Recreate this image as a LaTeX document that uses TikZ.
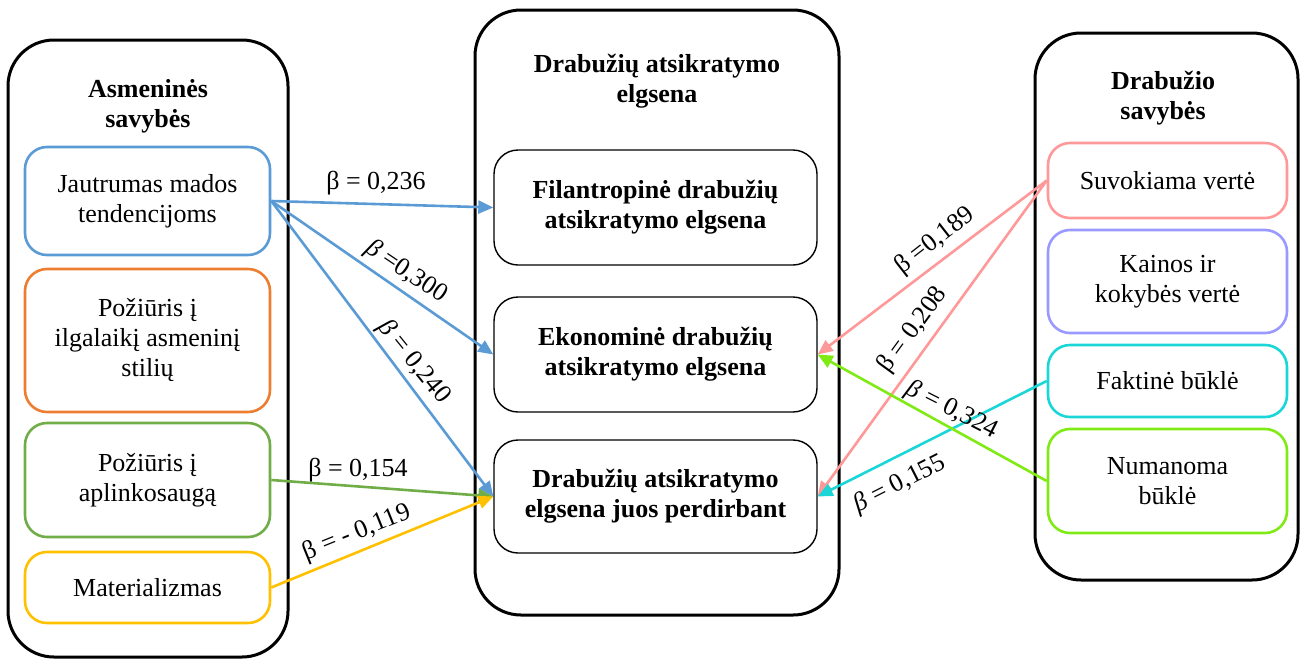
\documentclass[tikz,border=0pt]{standalone}
\usepackage{fontspec}
\setmainfont{Liberation Serif}
\usetikzlibrary{arrows.meta}

\definecolor{cblue}{HTML}{5B9BD5}
\definecolor{corange}{HTML}{ED7D31}
\definecolor{cgreen}{HTML}{70AD47}
\definecolor{cgold}{HTML}{FFC000}
\definecolor{cpink}{HTML}{FF9999}
\definecolor{clav}{HTML}{9999FF}
\definecolor{ccyan}{HTML}{1AD6D6}
\definecolor{clime}{HTML}{80EA14}

\tikzset{
  txt/.style={font=\fontsize{26}{30}\selectfont, align=center},
  group/.style={draw=black, line width=3pt, rounded corners=46pt, inner sep=0pt},
  outcome/.style={draw=black, line width=1.4pt, rounded corners=24pt, inner sep=0pt, txt, font=\fontsize{26}{30}\selectfont\bfseries},
  factor/.style={line width=2.6pt, rounded corners=22pt, inner sep=0pt, txt},
  title/.style={txt, font=\fontsize{26}{30}\selectfont\bfseries},
  link/.style={line width=2.6pt, -{Triangle[length=15pt,width=13pt]}},
  coef/.style={txt, inner sep=0pt},
}

\begin{document}
\begin{tikzpicture}[x=1pt,y=-1pt]
\useasboundingbox (0,0) rectangle (1305,659);

% group containers
\node[group, minimum width=280pt, minimum height=617pt] (personal) at (148,348.5) {};
\node[group, minimum width=364pt, minimum height=605pt] (behaviour) at (657,312.5) {};
\node[group, minimum width=263pt, minimum height=547pt] (garment) at (1166.5,306.5) {};

% group titles
\node[title] (tpersonal) at (148,106) {Asmeninės\\savybės};
\node[title] (tbehaviour) at (657,81) {Drabužių atsikratymo\\elgsena};
\node[title] (tgarment) at (1163,98) {Drabužio\\savybės};

% personal factors
\node[factor, draw=cblue, minimum width=245pt, minimum height=108pt] (fashion) at (147.5,201) {Jautrumas mados\\tendencijoms};
\node[factor, draw=corange, minimum width=245pt, minimum height=143pt] (style) at (147.5,340.5) {Požiūris į\\ilgalaikį asmeninį\\stilių};
\node[factor, draw=cgreen, minimum width=245pt, minimum height=114pt] (environ) at (147.5,480) {Požiūris į\\aplinkosaugą};
\node[factor, draw=cgold, minimum width=245pt, minimum height=71pt] (material) at (147.5,587.5) {Materializmas};

% disposal behaviours
\node[outcome, minimum width=323pt, minimum height=115pt] (philan) at (655.5,207.5) {Filantropinė drabužių\\atsikratymo elgsena};
\node[outcome, minimum width=323pt, minimum height=115pt] (econ) at (655.5,354.5) {Ekonominė drabužių\\atsikratymo elgsena};
\node[outcome, minimum width=323pt, minimum height=113pt] (recycle) at (655.5,496.5) {Drabužių atsikratymo\\elgsena juos perdirbant};

% garment properties
\node[factor, draw=cpink, minimum width=239pt, minimum height=75pt] (value) at (1167.5,180.5) {Suvokiama vertė};
\node[factor, draw=clav, minimum width=239pt, minimum height=103pt] (price) at (1167.5,281.5) {Kainos ir\\kokybės vertė};
\node[factor, draw=ccyan, minimum width=239pt, minimum height=72pt] (actual) at (1167.5,381) {Faktinė būklė};
\node[factor, draw=clime, minimum width=239pt, minimum height=104pt] (assumed) at (1167.5,481) {Numanoma\\būklė};

% paths
\draw[link, cblue] (fashion.east) -- (philan.west);
\draw[link, cblue] (fashion.east) -- (econ.west);
\draw[link, cblue] (fashion.east) -- (recycle.west);
\draw[link, cgreen] (environ.east) -- (recycle.west);
\draw[link, cgold] (material.east) -- (recycle.west);
\draw[link, cpink] (value.west) -- (econ.east);
\draw[link, cpink] (value.west) -- (recycle.east);
\draw[link, ccyan] (actual.west) -- (recycle.east);
\draw[link, clime] (assumed.west) -- (econ.east);

% coefficients
\node[coef] (b1) at (376,183) {β = 0,236};
\node[coef, rotate=-34] (b2) at (406,272) {\itshape β \upshape =0,300};
\node[coef, rotate=-51] (b3) at (414,362) {\itshape β \upshape = 0,240};
\node[coef] (b4) at (358,470) {β = 0,154};
\node[coef, rotate=22] (b5) at (357,533) {β = - 0,119};
\node[coef, rotate=38] (b6) at (935,241) {β =0,189};
\node[coef, rotate=54] (b7) at (913,330) {β = 0,208};
\node[coef, rotate=-27] (b8) at (952,410) {\itshape β \upshape = 0,324};
\node[coef, rotate=27] (b9) at (900,484) {\itshape β \upshape = 0,155};
\end{tikzpicture}
\end{document}
